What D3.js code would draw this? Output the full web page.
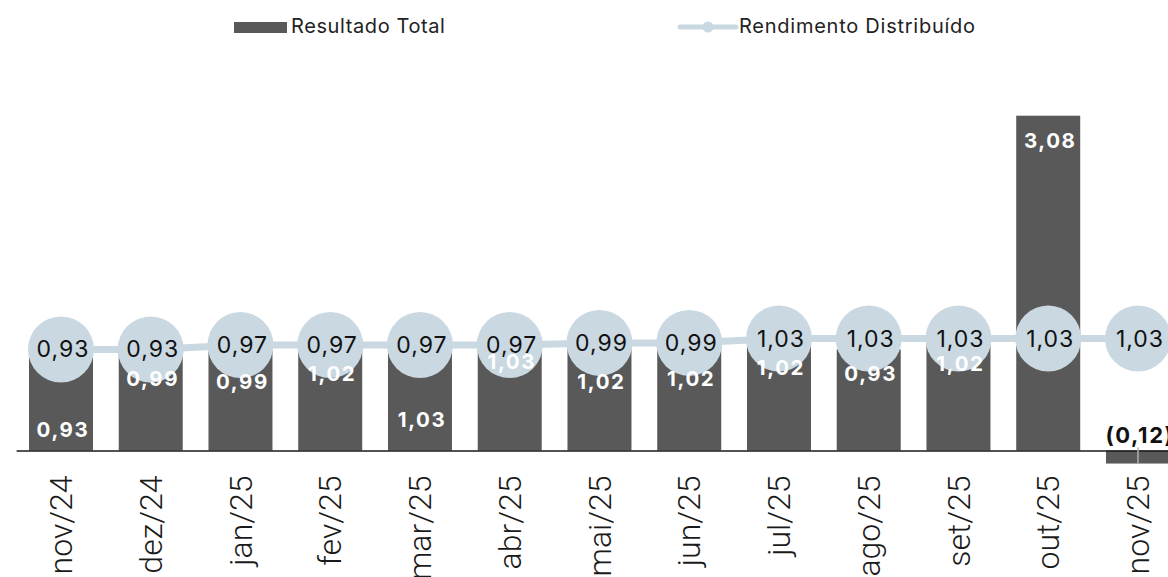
<!DOCTYPE html>
<html>
<head>
<meta charset="utf-8">
<script src="https://cdn.jsdelivr.net/npm/d3@7"></script>
<style>
  html, body { margin: 0; padding: 0; background: #ffffff; overflow: hidden; }
  svg { display: block; }
</style>
</head>
<body>
<svg id="chart" width="1168" height="577"></svg>
<script>
// ---- data ----
const categories = ["nov/24","dez/24","jan/25","fev/25","mar/25","abr/25","mai/25","jun/25","jul/25","ago/25","set/25","out/25","nov/25"];
const resultadoTotal = [0.93, 0.99, 0.99, 1.02, 1.03, 1.03, 1.02, 1.02, 1.02, 0.93, 1.02, 3.08, -0.12];
const rendimentoDistribuido = [0.93, 0.93, 0.97, 0.97, 0.97, 0.97, 0.99, 0.99, 1.03, 1.03, 1.03, 1.03, 1.03];
const seriesNames = ["Resultado Total", "Rendimento Distribuído"];

// ---- layout (label placement, px below bar top) ----
const barLabelDy = [88, 43, 46, 41, 88, 30, 49, 46, 35, 32, 31, 32, null];

const barColor = "#595959";
const lineColor = "#c9d8e1";
const fmt = v => {
  const s = Math.abs(v).toFixed(2).replace(".", ",");
  return v < 0 ? "(" + s + ")" : s;
};

const svg = d3.select("#chart");

const x = d3.scaleBand()
  .domain(categories)
  .range([16.1, 16.1 + 13 * 89.75])
  .paddingInner(0.287)
  .paddingOuter(0.1435);

const y = d3.scaleLinear()
  .domain([0, 3.08])
  .range([450.5, 115.7]);

const cx = c => x(c) + x.bandwidth() / 2;

// bars
svg.append("g").selectAll("rect")
  .data(categories)
  .join("rect")
  .attr("x", d => x(d))
  .attr("width", x.bandwidth())
  .attr("y", (d, i) => Math.min(y(resultadoTotal[i]), y(0)))
  .attr("height", (d, i) => Math.abs(y(resultadoTotal[i]) - y(0)))
  .attr("fill", barColor);

// x axis
const axis = svg.append("g")
  .attr("transform", `translate(0,${y(0)})`)
  .call(d3.axisBottom(x).tickSize(0).tickSizeOuter(0).tickPadding(0));
axis.select(".domain").attr("stroke", "#1a1a1a").attr("stroke-width", 1.6);
axis.selectAll(".tick text")
  .attr("font-family", "Roboto, 'Liberation Sans', sans-serif")
  .attr("font-weight", 300)
  .attr("font-size", 32)
  .attr("fill", "#1a1a1a")
  .attr("text-anchor", "end")
  .attr("transform", "translate(0,25) rotate(-90)")
  .attr("x", 0)
  .attr("y", 0)
  .attr("dy", "0.35em");

// negative bar leader line
resultadoTotal.forEach((v, i) => {
  if (v < 0) {
    svg.append("line")
      .attr("x1", cx(categories[i])).attr("x2", cx(categories[i]))
      .attr("y1", y(0) - 3).attr("y2", y(v))
      .attr("stroke", "#b0b0b0").attr("stroke-width", 1.5);
  }
});

// line
const line = d3.line()
  .x((d, i) => cx(categories[i]))
  .y(d => y(d));
svg.append("path")
  .datum(rendimentoDistribuido)
  .attr("d", line)
  .attr("fill", "none")
  .attr("stroke", lineColor)
  .attr("stroke-width", 7);

// circles
svg.append("g").selectAll("circle")
  .data(rendimentoDistribuido)
  .join("circle")
  .attr("cx", (d, i) => cx(categories[i]))
  .attr("cy", d => y(d))
  .attr("r", 33)
  .attr("fill", lineColor);

// circle labels
svg.append("g").selectAll("text")
  .data(rendimentoDistribuido)
  .join("text")
  .attr("x", (d, i) => cx(categories[i]) + 2)
  .attr("y", d => y(d) + 8)
  .attr("text-anchor", "middle")
  .attr("font-family", "Inter, 'Noto Sans', sans-serif")
  .attr("font-size", 23)
  .attr("font-weight", 400)
  .attr("letter-spacing", 1)
  .attr("fill", "#111")
  .text(d => fmt(d));

// bar labels
svg.append("g").selectAll("text")
  .data(resultadoTotal)
  .join("text")
  .attr("x", (d, i) => cx(categories[i]) + 2)
  .attr("y", (d, i) => d < 0 ? y(0) - 7.5 : y(d) + barLabelDy[i])
  .attr("text-anchor", "middle")
  .attr("font-family", "Inter, 'Noto Sans', sans-serif")
  .attr("font-size", d => d < 0 ? 22 : 20.5)
  .attr("font-weight", 700)
  .attr("letter-spacing", 1.6)
  .attr("fill", d => d < 0 ? "#111" : "#ffffff")
  .text(d => fmt(d));

// legend
const lg = svg.append("g");
lg.append("rect")
  .attr("x", 234).attr("y", 22).attr("width", 53).attr("height", 11)
  .attr("fill", barColor);
lg.append("text")
  .attr("x", 291).attr("y", 33)
  .attr("font-family", "Inter, 'Noto Sans', sans-serif")
  .attr("font-size", 20).attr("letter-spacing", 0.6).attr("fill", "#222")
  .text(seriesNames[0]);
lg.append("line")
  .attr("x1", 680).attr("x2", 736).attr("y1", 27).attr("y2", 27)
  .attr("stroke", lineColor).attr("stroke-width", 5).attr("stroke-linecap", "round");
lg.append("circle")
  .attr("cx", 708).attr("cy", 27).attr("r", 5.5).attr("fill", lineColor);
lg.append("text")
  .attr("x", 739).attr("y", 33)
  .attr("font-family", "Inter, 'Noto Sans', sans-serif")
  .attr("font-size", 20).attr("letter-spacing", 0.75).attr("fill", "#222")
  .text(seriesNames[1]);
</script>
</body>
</html>
